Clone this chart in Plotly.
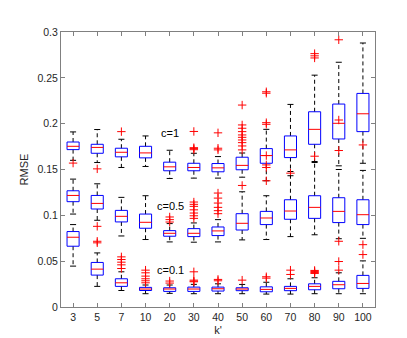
import plotly.graph_objects as go

categories = ["3", "5", "7", "10", "20", "30", "40", "50", "60", "70", "80", "90", "100"]
y_tick_vals = [0, 0.05, 0.1, 0.15, 0.2, 0.25, 0.3]
y_tick_text = ["0", "0.05", "0.1", "0.15", "0.2", "0.25", "0.3"]

# c = 1
c1_lower = [0.160, 0.1576, 0.1522, 0.1533, 0.1402, 0.1406, 0.1406, 0.1416, 0.1377, 0.1478, 0.1587, 0.154, 0.1568]
c1_q1 = [0.1717, 0.1677, 0.1638, 0.1627, 0.1486, 0.1486, 0.1475, 0.1497, 0.1568, 0.163, 0.1775, 0.1833, 0.1913]
c1_median = [0.1753, 0.1741, 0.1688, 0.1681, 0.1529, 0.1522, 0.1518, 0.1545, 0.1652, 0.1714, 0.1938, 0.2004, 0.2108]
c1_q3 = [0.180, 0.1775, 0.1732, 0.1753, 0.158, 0.1568, 0.1565, 0.1634, 0.1728, 0.1866, 0.213, 0.2214, 0.233]
c1_upper = [0.191, 0.1936, 0.183, 0.1866, 0.171, 0.1677, 0.1641, 0.168, 0.1938, 0.221, 0.2529, 0.267, 0.288]
c1_outliers = [
    [0.157], [0.1507], [0.1913], [], [],
    [0.1915, 0.1738, 0.1728, 0.1716],
    [0.1900, 0.1732, 0.1714],
    [0.2203, 0.1986, 0.195, 0.1913, 0.1877, 0.1851, 0.1822, 0.1793, 0.1757, 0.1714],
    [0.2348, 0.2332, 0.2011, 0.1993, 0.1652, 0.155, 0.1522, 0.1377],
    [0.146],
    [0.2764, 0.274, 0.2717, 0.1645],
    [0.2915, 0.204, 0.1707],
    [0.1768],
]

# c = 0.5
c05_lower = [0.1014, 0.0946, 0.0775, 0.0736, 0.071, 0.0707, 0.071, 0.0732, 0.0736, 0.0768, 0.0788, 0.0745, 0.0749]
c05_q1 = [0.1149, 0.1069, 0.0928, 0.0859, 0.0772, 0.0768, 0.0779, 0.084, 0.0899, 0.0957, 0.0967, 0.0921, 0.0899]
c05_median = [0.1217, 0.113, 0.0989, 0.0924, 0.0804, 0.0804, 0.083, 0.0913, 0.0971, 0.1047, 0.1087, 0.1043, 0.1007]
c05_q3 = [0.1268, 0.1217, 0.1054, 0.1014, 0.0833, 0.0855, 0.0873, 0.1018, 0.1043, 0.117, 0.1214, 0.1192, 0.117]
c05_upper = [0.1395, 0.1344, 0.1196, 0.1214, 0.091, 0.0917, 0.0953, 0.1257, 0.1214, 0.1432, 0.1576, 0.150, 0.149]
c05_outliers = [
    [], [0.088, 0.0717, 0.070], [], [],
    [0.0982, 0.0953, 0.0927],
    [0.1145, 0.112, 0.1098, 0.106, 0.1025, 0.0995, 0.0967],
    [0.1243, 0.1188, 0.1134, 0.1087, 0.1051, 0.1018],
    [0.1326], [], [], [],
    [0.0717],
    [0.068, 0.0572],
]

# c = 0.1
c01_lower = [0.0446, 0.0225, 0.018, 0.0145, 0.0149, 0.0145, 0.0145, 0.0145, 0.0141, 0.0141, 0.0145, 0.0145, 0.0145]
c01_q1 = [0.0663, 0.0348, 0.0225, 0.018, 0.017, 0.017, 0.0174, 0.0178, 0.0166, 0.0178, 0.0188, 0.0199, 0.0203]
c01_median = [0.0761, 0.0413, 0.0264, 0.0196, 0.0196, 0.0196, 0.0199, 0.0196, 0.0192, 0.0203, 0.0225, 0.0243, 0.0257]
c01_q3 = [0.0823, 0.0486, 0.0308, 0.0214, 0.021, 0.0217, 0.0217, 0.021, 0.022, 0.0225, 0.0253, 0.028, 0.0345]
c01_upper = [0.0899, 0.059, 0.0384, 0.024, 0.024, 0.0247, 0.0253, 0.0246, 0.027, 0.0308, 0.0319, 0.0373, 0.0503]
c01_outliers = [
    [], [],
    [0.0547, 0.0518, 0.0489, 0.046, 0.042],
    [0.0402, 0.0373, 0.0337, 0.0308, 0.0286, 0.0264],
    [0.0283, 0.0261],
    [0.0384, 0.0293, 0.0282, 0.0275],
    [0.0301, 0.0286],
    [0.0293],
    [0.033, 0.0315],
    [0.0402, 0.0355],
    [0.0399, 0.0388, 0.0377, 0.0366],
    [0.0496, 0.0402],
    [],
]

group_labels = ["c=1", "c=0.5", "c=0.1"]
label_y = [0.1895, 0.1098, 0.0405]
label_x = [5.0, 5.05, 5.05]

BOX_HALF = 0.25
CAP_HALF = 0.125
BLUE = "#0000ff"
RED = "#ff0000"

fig = go.Figure()

groups = [
    (c1_lower, c1_q1, c1_median, c1_q3, c1_upper, c1_outliers),
    (c05_lower, c05_q1, c05_median, c05_q3, c05_upper, c05_outliers),
    (c01_lower, c01_q1, c01_median, c01_q3, c01_upper, c01_outliers),
]

for lo, q1, med, q3, up, outl in groups:
    wx, wy, cx, cy, bx, by, mx, my, ox, oy = [], [], [], [], [], [], [], [], [], []
    for i in range(len(categories)):
        x = i + 1
        wx += [x, x, None, x, x, None]
        wy += [q3[i], up[i], None, q1[i], lo[i], None]
        cx += [x - CAP_HALF, x + CAP_HALF, None, x - CAP_HALF, x + CAP_HALF, None]
        cy += [up[i], up[i], None, lo[i], lo[i], None]
        bx += [x - BOX_HALF, x + BOX_HALF, x + BOX_HALF, x - BOX_HALF, x - BOX_HALF, None]
        by += [q1[i], q1[i], q3[i], q3[i], q1[i], None]
        mx += [x - BOX_HALF, x + BOX_HALF, None]
        my += [med[i], med[i], None]
        for v in outl[i]:
            ox.append(x)
            oy.append(v)
    fig.add_trace(go.Scatter(x=wx, y=wy, mode="lines", line=dict(color="black", width=1, dash="4px,3px"),
                             hoverinfo="skip", showlegend=False))
    fig.add_trace(go.Scatter(x=cx, y=cy, mode="lines", line=dict(color="black", width=1),
                             hoverinfo="skip", showlegend=False))
    fig.add_trace(go.Scatter(x=bx, y=by, mode="lines", line=dict(color=BLUE, width=1),
                             hoverinfo="skip", showlegend=False))
    fig.add_trace(go.Scatter(x=mx, y=my, mode="lines", line=dict(color=RED, width=1),
                             hoverinfo="skip", showlegend=False))
    fig.add_trace(go.Scatter(x=ox, y=oy, mode="markers",
                             marker=dict(symbol="cross-thin", size=6, line=dict(color=RED, width=1)),
                             hoverinfo="skip", showlegend=False))

for lab, lx, ly in zip(group_labels, label_x, label_y):
    fig.add_annotation(x=lx, y=ly, text=lab, showarrow=False, xref="x", yref="y",
                       font=dict(size=11, color="black"))

FONT = "Liberation Sans, Arial, sans-serif"
AXCOL = "rgb(128,128,128)"

fig.update_layout(
    width=407, height=338,
    margin=dict(l=53, r=40, t=24, b=37),
    paper_bgcolor="white", plot_bgcolor="white",
    font=dict(family=FONT, size=10.5, color="#262626"),
    xaxis=dict(
        range=[0.5, len(categories) + 0.5],
        tickmode="array", tickvals=list(range(1, len(categories) + 1)), ticktext=categories,
        ticks="inside", ticklen=4, tickcolor=AXCOL, tickwidth=1,
        showline=True, linecolor=AXCOL, linewidth=1, mirror="ticks",
        showgrid=False, zeroline=False,
        title=dict(text="k'", font=dict(size=11, color="#262626"), standoff=4),
    ),
    yaxis=dict(
        range=[0, 0.3],
        tickmode="array", tickvals=y_tick_vals, ticktext=y_tick_text,
        ticks="inside", ticklen=4, tickcolor=AXCOL, tickwidth=1,
        showline=True, linecolor=AXCOL, linewidth=1, mirror="ticks",
        showgrid=False, zeroline=False,
        title=dict(text="RMSE", font=dict(size=11, color="#262626"), standoff=6),
    ),
)

fig.write_html("out.html")
